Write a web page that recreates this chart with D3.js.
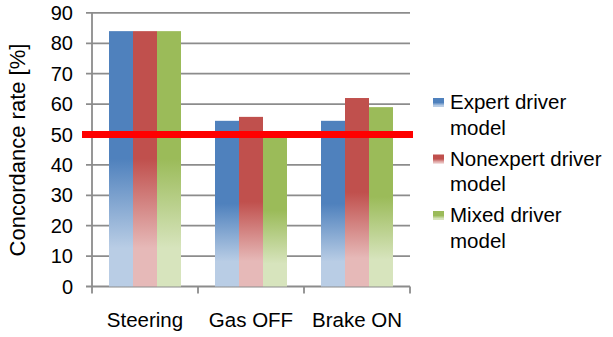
<!DOCTYPE html>
<html>
<head>
<meta charset="utf-8">
<script src="https://cdn.jsdelivr.net/npm/d3@7"></script>
<style>
  html, body { margin: 0; padding: 0; background: #fff; }
  svg { display: block; font-family: "Liberation Sans", Arial, sans-serif; }
</style>
</head>
<body>
<svg id="chart" width="613" height="337"></svg>
<script>
// Concordance rate per maneuver for each driver model
const categories = ["Steering", "Gas OFF", "Brake ON"];
const seriesNames = ["Expert driver model", "Nonexpert driver model", "Mixed driver model"];
const legendLines = [["Expert driver", "model"], ["Nonexpert driver", "model"], ["Mixed driver", "model"]];
const expertValues = [84, 54.5, 54.5];
const nonexpertValues = [84, 55.8, 62];
const mixedValues = [84, 50, 59];
const yTicks = [0, 10, 20, 30, 40, 50, 60, 70, 80, 90];
const thresholdValue = 50;

const seriesValues = [expertValues, nonexpertValues, mixedValues];
const darkColors = ["#4F81BD", "#C0504D", "#9BBB59"];
const lightColors = ["#B9CDE5", "#E6B9B8", "#D7E4BD"];

const svg = d3.select("#chart");
const plotLeft = 92, plotRight = 410, plotTop = 12.9, plotBottom = 286.5;

const y = d3.scaleLinear().domain([0, 90]).range([plotBottom, plotTop]);
const x = d3.scaleBand().domain(categories).range([plotLeft, plotRight]).padding(0);
const xs = d3.scaleBand().domain(seriesNames).range([17, 89]).padding(0);

// vertical gradients, solid on the upper half then fading out
const defs = svg.append("defs");
seriesNames.forEach((s, i) => {
  const g = defs.append("linearGradient")
    .attr("id", "grad" + i)
    .attr("x1", 0).attr("y1", 0).attr("x2", 0).attr("y2", 1);
  g.append("stop").attr("offset", "0").attr("stop-color", darkColors[i]);
  g.append("stop").attr("offset", "0.5").attr("stop-color", darkColors[i]);
  g.append("stop").attr("offset", "0.85").attr("stop-color", lightColors[i]);
  g.append("stop").attr("offset", "1").attr("stop-color", lightColors[i]);
});

const gridColor = "#8c8c8c";

// horizontal gridlines
svg.append("g")
  .selectAll("line")
  .data(yTicks)
  .join("line")
  .attr("x1", plotLeft - 6).attr("x2", plotRight)
  .attr("y1", d => y(d)).attr("y2", d => y(d))
  .attr("stroke", gridColor).attr("stroke-width", 1.8);

// y axis line
svg.append("line")
  .attr("x1", plotLeft).attr("x2", plotLeft)
  .attr("y1", y(90)).attr("y2", plotBottom)
  .attr("stroke", gridColor).attr("stroke-width", 1.8);

// x axis tick marks at band edges
const edges = categories.map(c => x(c)).concat([x(categories[categories.length - 1]) + x.bandwidth()]);
svg.append("g")
  .selectAll("line")
  .data(edges)
  .join("line")
  .attr("x1", d => d).attr("x2", d => d)
  .attr("y1", plotBottom).attr("y2", plotBottom + 7)
  .attr("stroke", gridColor).attr("stroke-width", 1.8);

// y tick labels
svg.append("g")
  .selectAll("text")
  .data(yTicks)
  .join("text")
  .attr("x", 73)
  .attr("y", d => y(d) + 7)
  .attr("text-anchor", "end")
  .attr("font-size", 20)
  .attr("fill", "#000")
  .text(d => d);

// bars
seriesNames.forEach((s, i) => {
  svg.append("g")
    .selectAll("rect")
    .data(categories.map((c, j) => ({ c, v: seriesValues[i][j] })))
    .join("rect")
    .attr("x", d => x(d.c) + xs(s))
    .attr("width", xs.bandwidth())
    .attr("y", d => y(d.v))
    .attr("height", d => plotBottom - y(d.v))
    .attr("fill", "url(#grad" + i + ")");
});

// threshold line
svg.append("line")
  .attr("x1", 82).attr("x2", 413)
  .attr("y1", y(thresholdValue)).attr("y2", y(thresholdValue))
  .attr("stroke", "#FF0000").attr("stroke-width", 7);

// category labels
svg.append("g")
  .selectAll("text")
  .data(categories)
  .join("text")
  .attr("x", d => x(d) + x.bandwidth() / 2)
  .attr("y", 327)
  .attr("text-anchor", "middle")
  .attr("font-size", 20.5)
  .attr("fill", "#000")
  .text(d => d);

// y axis title
svg.append("text")
  .attr("transform", "translate(25,150) rotate(-90)")
  .attr("text-anchor", "middle")
  .attr("font-size", 22)
  .attr("fill", "#000")
  .text("Concordance rate [%]");

// legend
const legend = svg.append("g");
seriesNames.forEach((s, i) => {
  const base = 109 + i * 56.5;
  legend.append("rect")
    .attr("x", 433).attr("y", base - 11)
    .attr("width", 11).attr("height", 9)
    .attr("fill", "url(#grad" + i + ")");
  legendLines[i].forEach((line, k) => {
    legend.append("text")
      .attr("x", 450)
      .attr("y", base + k * 25.5)
      .attr("font-size", 20.5)
      .attr("fill", "#000")
      .text(line);
  });
});
</script>
</body>
</html>
